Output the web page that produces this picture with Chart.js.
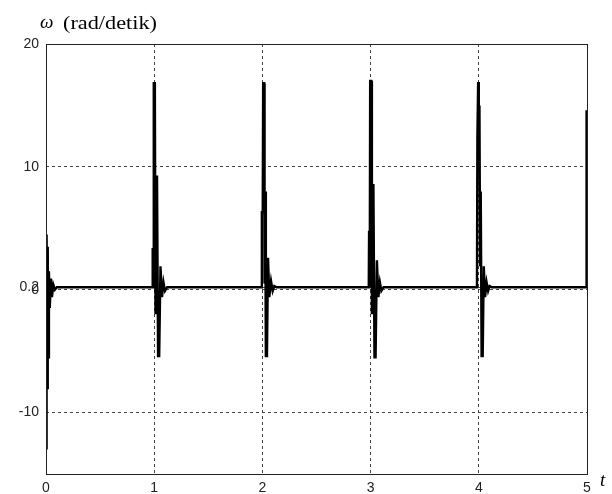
<!DOCTYPE html>
<html>
<head>
<meta charset="utf-8">
<script src="https://cdn.jsdelivr.net/npm/chart.js@4.4.1/dist/chart.umd.min.js"></script>
<style>
html,body{margin:0;padding:0;background:#fff;}
#wrap{width:612px;height:494px;position:relative;}
</style>
</head>
<body>
<div id="wrap"><canvas id="c" width="612" height="494"></canvas></div>
<script>
// time (s)
const tVals = [
  0, 0.003, 0.008, 0.012, 0.016, 0.021, 0.027, 0.035, 0.045, 0.055, 0.068, 0.082, 0.100,
  0.983, 0.986, 0.992, 0.996, 1.006, 1.012, 1.018, 1.026, 1.036, 1.046, 1.058, 1.072, 1.086, 1.100, 1.120,
  1.992, 1.995, 2.003, 2.007, 2.016, 2.020, 2.026, 2.032, 2.042, 2.052, 2.064, 2.080, 2.095, 2.110, 2.130,
  2.983, 2.986, 2.992, 2.996, 3.006, 3.012, 3.018, 3.026, 3.036, 3.046, 3.058, 3.072, 3.086, 3.100, 3.120,
  3.983, 3.987, 3.994, 4.000, 4.006, 4.012, 4.018, 4.026, 4.036, 4.046, 4.058, 4.072, 4.086, 4.100, 4.120,
  4.993, 4.996, 5.000
];
// angular speed omega (rad/detik)
const wVals = [
  2.0, -13.0, 4.5, -8.0, 3.5, -5.5, 1.5, -1.5, 0.9, -0.6, 0.4, 0.0, 0.2,
  0.2, 3.4, 0.2, 16.8, 16.8, -2.0, 9.2, 9.2, -5.4, -5.4, 1.9, -0.6, 0.6, -0.1, 0.2,
  0.2, 6.3, 6.3, 16.8, 16.8, 0.5, 8.0, -5.4, -5.4, 2.6, -0.6, 0.7, -0.1, 0.3, 0.2,
  0.2, 4.8, 0.2, 17.0, 17.0, -2.0, 8.5, 8.5, -5.5, -5.5, 2.4, -0.6, 0.6, -0.1, 0.2,
  0.2, 12.4, 16.9, 14.9, 14.9, 2.0, 8.0, -5.4, -5.4, 1.9, -0.6, 0.6, -0.1, 0.3, 0.2,
  0.2, 14.5, 14.5
];
const yTickVals = [-10, 0, 0.2, 10, 20];
const yTickLabels = ['-10', '0', '0.2', '10', '20'];
const xTickVals = [0, 1, 2, 3, 4, 5];
const xTickLabels = ['0', '1', '2', '3', '4', '5'];

const points = tVals.map((t, i) => ({x: t, y: wVals[i]}));

const framePlugin = {
  id: 'frame',
  afterDraw(chart) {
    const ctx = chart.ctx, a = chart.chartArea;
    ctx.save();
    ctx.strokeStyle = '#222';
    ctx.lineWidth = 1;
    ctx.strokeRect(Math.round(a.left) + 0.5, Math.round(a.top) + 0.5,
                   Math.round(a.right - a.left), Math.round(a.bottom - a.top));
    // y-axis title
    ctx.fillStyle = '#000';
    ctx.textBaseline = 'alphabetic';
    ctx.textAlign = 'left';
    ctx.font = 'italic 19px "Liberation Serif", "DejaVu Serif", serif';
    ctx.fillText('\u03C9', 40, 28);
    ctx.font = '19px "Liberation Serif", "DejaVu Serif", serif';
    const txt = '(rad/detik)';
    const w = ctx.measureText(txt).width;
    ctx.translate(63, 29);
    ctx.scale(94 / w, 1);
    ctx.fillText(txt, 0, 0);
    ctx.restore();
    ctx.save();
    ctx.fillStyle = '#000';
    ctx.font = 'italic 19px "Liberation Serif", "DejaVu Serif", serif';
    ctx.textAlign = 'left';
    ctx.textBaseline = 'alphabetic';
    ctx.fillText('t', 600, 486);
    ctx.restore();
  }
};

new Chart(document.getElementById('c'), {
  type: 'scatter',
  data: {
    datasets: [{
      data: points,
      showLine: true,
      borderColor: '#000',
      borderWidth: 2.4,
      pointRadius: 0,
      tension: 0,
      fill: false
    }]
  },
  options: {
    responsive: false,
    animation: false,
    events: [],
    layout: {padding: {top: 44, right: 25, left: 0, bottom: 0}},
    plugins: {legend: {display: false}, tooltip: {enabled: false}},
    scales: {
      x: {
        type: 'linear', min: 0, max: 5,
        afterBuildTicks: s => { s.ticks = xTickVals.map(v => ({value: v})); },
        afterFit: s => { s.height = 20; },
        grid: {color: '#444', lineWidth: 1, drawTicks: false},
        border: {display: false, dash: [3, 3]},
        ticks: {
          autoSkip: false, maxRotation: 0, padding: 6,
          color: '#222',
          font: {family: '"Liberation Sans", Arial, sans-serif', size: 14},
          callback: (v) => { const i = xTickVals.indexOf(v); return i >= 0 ? xTickLabels[i] : ''; }
        }
      },
      y: {
        type: 'linear', min: -15, max: 20,
        afterBuildTicks: s => { s.ticks = yTickVals.map(v => ({value: v})); },
        afterFit: s => { s.width = 46; },
        grid: {color: '#444', lineWidth: 1, drawTicks: false},
        border: {display: false, dash: [3, 3]},
        ticks: {
          autoSkip: false, padding: 7,
          color: '#222',
          font: {family: '"Liberation Sans", Arial, sans-serif', size: 14},
          callback: (v) => { const i = yTickVals.indexOf(v); return i >= 0 ? yTickLabels[i] : ''; }
        }
      }
    }
  },
  plugins: [framePlugin]
});
</script>
</body>
</html>
